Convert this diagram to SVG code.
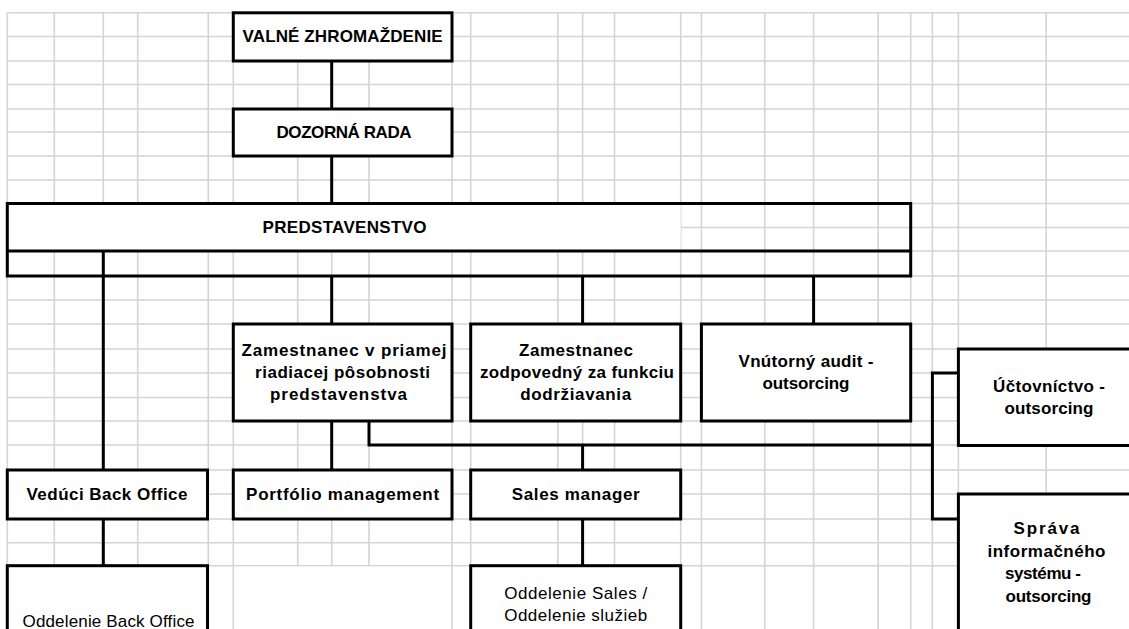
<svg xmlns="http://www.w3.org/2000/svg" width="1129" height="629" viewBox="0 0 1129 629">
<defs>
<style>
.grid{stroke:#d4d4d4;stroke-width:1.6;fill:none}
.box{fill:#fff;stroke:#000;stroke-width:3}
.mask{fill:#fff;stroke:none}
.con{fill:none;stroke:#000;stroke-width:3;stroke-linejoin:miter}
.t{font-family:"Liberation Sans",Arial,sans-serif;font-size:17px;font-weight:bold;fill:#000;text-anchor:middle}
.r{font-family:"Liberation Sans",Arial,sans-serif;font-size:17px;font-weight:normal;fill:#000;text-anchor:middle}
</style>
</defs>
<rect width="1129" height="629" fill="#fff"/>
<g id="grid">
<path class="grid" d="M7.3 12.8V629M54.3 12.8V629M103.3 12.8V629M137.7 12.8V629M208.3 12.8V629M233.3 12.8V629M297.7 12.8V629M331.7 12.8V629M369 12.8V629M452 12.8V629M470.7 12.8V629M557.8 12.8V629M582.6 12.8V629M614.5 12.8V629M680.7 12.8V629M701.4 12.8V629M764.8 12.8V629M813.6 12.8V629M878.2 12.8V629M910.7 12.8V629M932.4 12.8V629M958.4 12.8V629M1046.2 12.8V629"/>
<path class="grid" d="M7.3 12.8H1129M7.3 36.5H1129M7.3 61H1129M7.3 84.5H1129M7.3 109H1129M7.3 132H1129M7.3 156H1129M7.3 180H1129M7.3 203.5H1129M7.3 227.5H1129M7.3 251H1129M7.3 276H1129M7.3 300H1129M7.3 324H1129M7.3 349H1129M7.3 373H1129M7.3 397.5H1129M7.3 421H1129M7.3 445H1129M7.3 470H1129M7.3 494H1129M7.3 519H1129M7.3 542.7H1129M7.3 565.7H1129"/>
<rect class="mask" x="234.5" y="566.5" width="216.5" height="63"/>
</g>
<g id="connectors">
<path class="con" d="M331.7 61V109M331.7 156V203.5M331.7 276V324M331.7 421V470M103.3 251V470M103.3 519V565.7M582.6 276V324M582.6 445V470M582.6 519V565.7M813.6 276V324"/>
<path class="con" d="M369 421V445H932.4"/>
<path class="con" d="M958.4 373H932.4V519H958.4"/>
</g>
<g id="valne">
<rect class="box" x="233.3" y="12.8" width="218.7" height="48.2"/>
<text class="t" x="342.6" y="42" textLength="200">VALNÉ ZHROMAŽDENIE</text>
</g>
<g id="dozorna">
<rect class="box" x="233.3" y="109" width="218.7" height="47"/>
<text class="t" x="344" y="138" textLength="135">DOZORNÁ RADA</text>
</g>
<g id="predstavenstvo">
<rect class="mask" x="7.3" y="203.5" width="673.4" height="47.5"/>
<rect x="7.3" y="203.5" width="903.4" height="72.5" fill="none" stroke="#000" stroke-width="3"/>
<path class="con" d="M7.3 251H910.7"/>
<text class="t" x="344.5" y="233" textLength="164">PREDSTAVENSTVO</text>
</g>
<g id="zamestnanec-priamej">
<rect class="box" x="233.3" y="324" width="218.7" height="97"/>
<text class="t" x="344" y="355.5" textLength="205">Zamestnanec v priamej</text>
<text class="t" x="342.6" y="377.5" textLength="175">riadiacej pôsobnosti</text>
<text class="t" x="338.5" y="399.5" textLength="137">predstavenstva</text>
</g>
<g id="zamestnanec-dodrziavania">
<rect class="box" x="470.7" y="324" width="210" height="97"/>
<text class="t" x="576" y="355.5" textLength="114">Zamestnanec</text>
<text class="t" x="577" y="377.5" textLength="194">zodpovedný za funkciu</text>
<text class="t" x="575.7" y="399.5" textLength="111">dodržiavania</text>
</g>
<g id="audit">
<rect class="box" x="701.4" y="324" width="209.3" height="97"/>
<text class="t" x="806" y="367" textLength="135">Vnútorný audit -</text>
<text class="t" x="806" y="389" textLength="87">outsorcing</text>
</g>
<g id="uctovnictvo">
<rect class="box" x="958.4" y="349" width="190" height="96.5"/>
<text class="t" x="1049" y="392" textLength="112">Účtovníctvo -</text>
<text class="t" x="1049" y="414" textLength="89">outsorcing</text>
</g>
<g id="sprava">
<rect class="box" x="958.4" y="494" width="190" height="150"/>
<text class="t" x="1046.5" y="534" textLength="66">Správa</text>
<text class="t" x="1046.5" y="556.5" textLength="118">informačného</text>
<text class="t" x="1043" y="579" textLength="76">systému -</text>
<text class="t" x="1048.5" y="601.5" textLength="86">outsorcing</text>
</g>
<g id="veduci">
<rect class="box" x="7.3" y="470" width="200.2" height="49"/>
<text class="t" x="107" y="500" textLength="161">Vedúci Back Office</text>
</g>
<g id="portfolio">
<rect class="box" x="233.3" y="470" width="218.7" height="49"/>
<text class="t" x="342.6" y="500" textLength="193">Portfólio management</text>
</g>
<g id="sales">
<rect class="box" x="470.7" y="470" width="210" height="49"/>
<text class="t" x="575.7" y="500" textLength="128">Sales manager</text>
</g>
<g id="oddelenie-bo">
<rect class="box" x="7.3" y="565.7" width="200.2" height="80"/>
<text class="r" x="108.5" y="626.5" textLength="172">Oddelenie Back Office</text>
</g>
<g id="oddelenie-sales">
<rect class="box" x="470.7" y="565.7" width="210" height="80"/>
<text class="r" x="575.7" y="599" textLength="143">Oddelenie Sales /</text>
<text class="r" x="575.7" y="621" textLength="143">Oddelenie služieb</text>
</g>
</svg>
